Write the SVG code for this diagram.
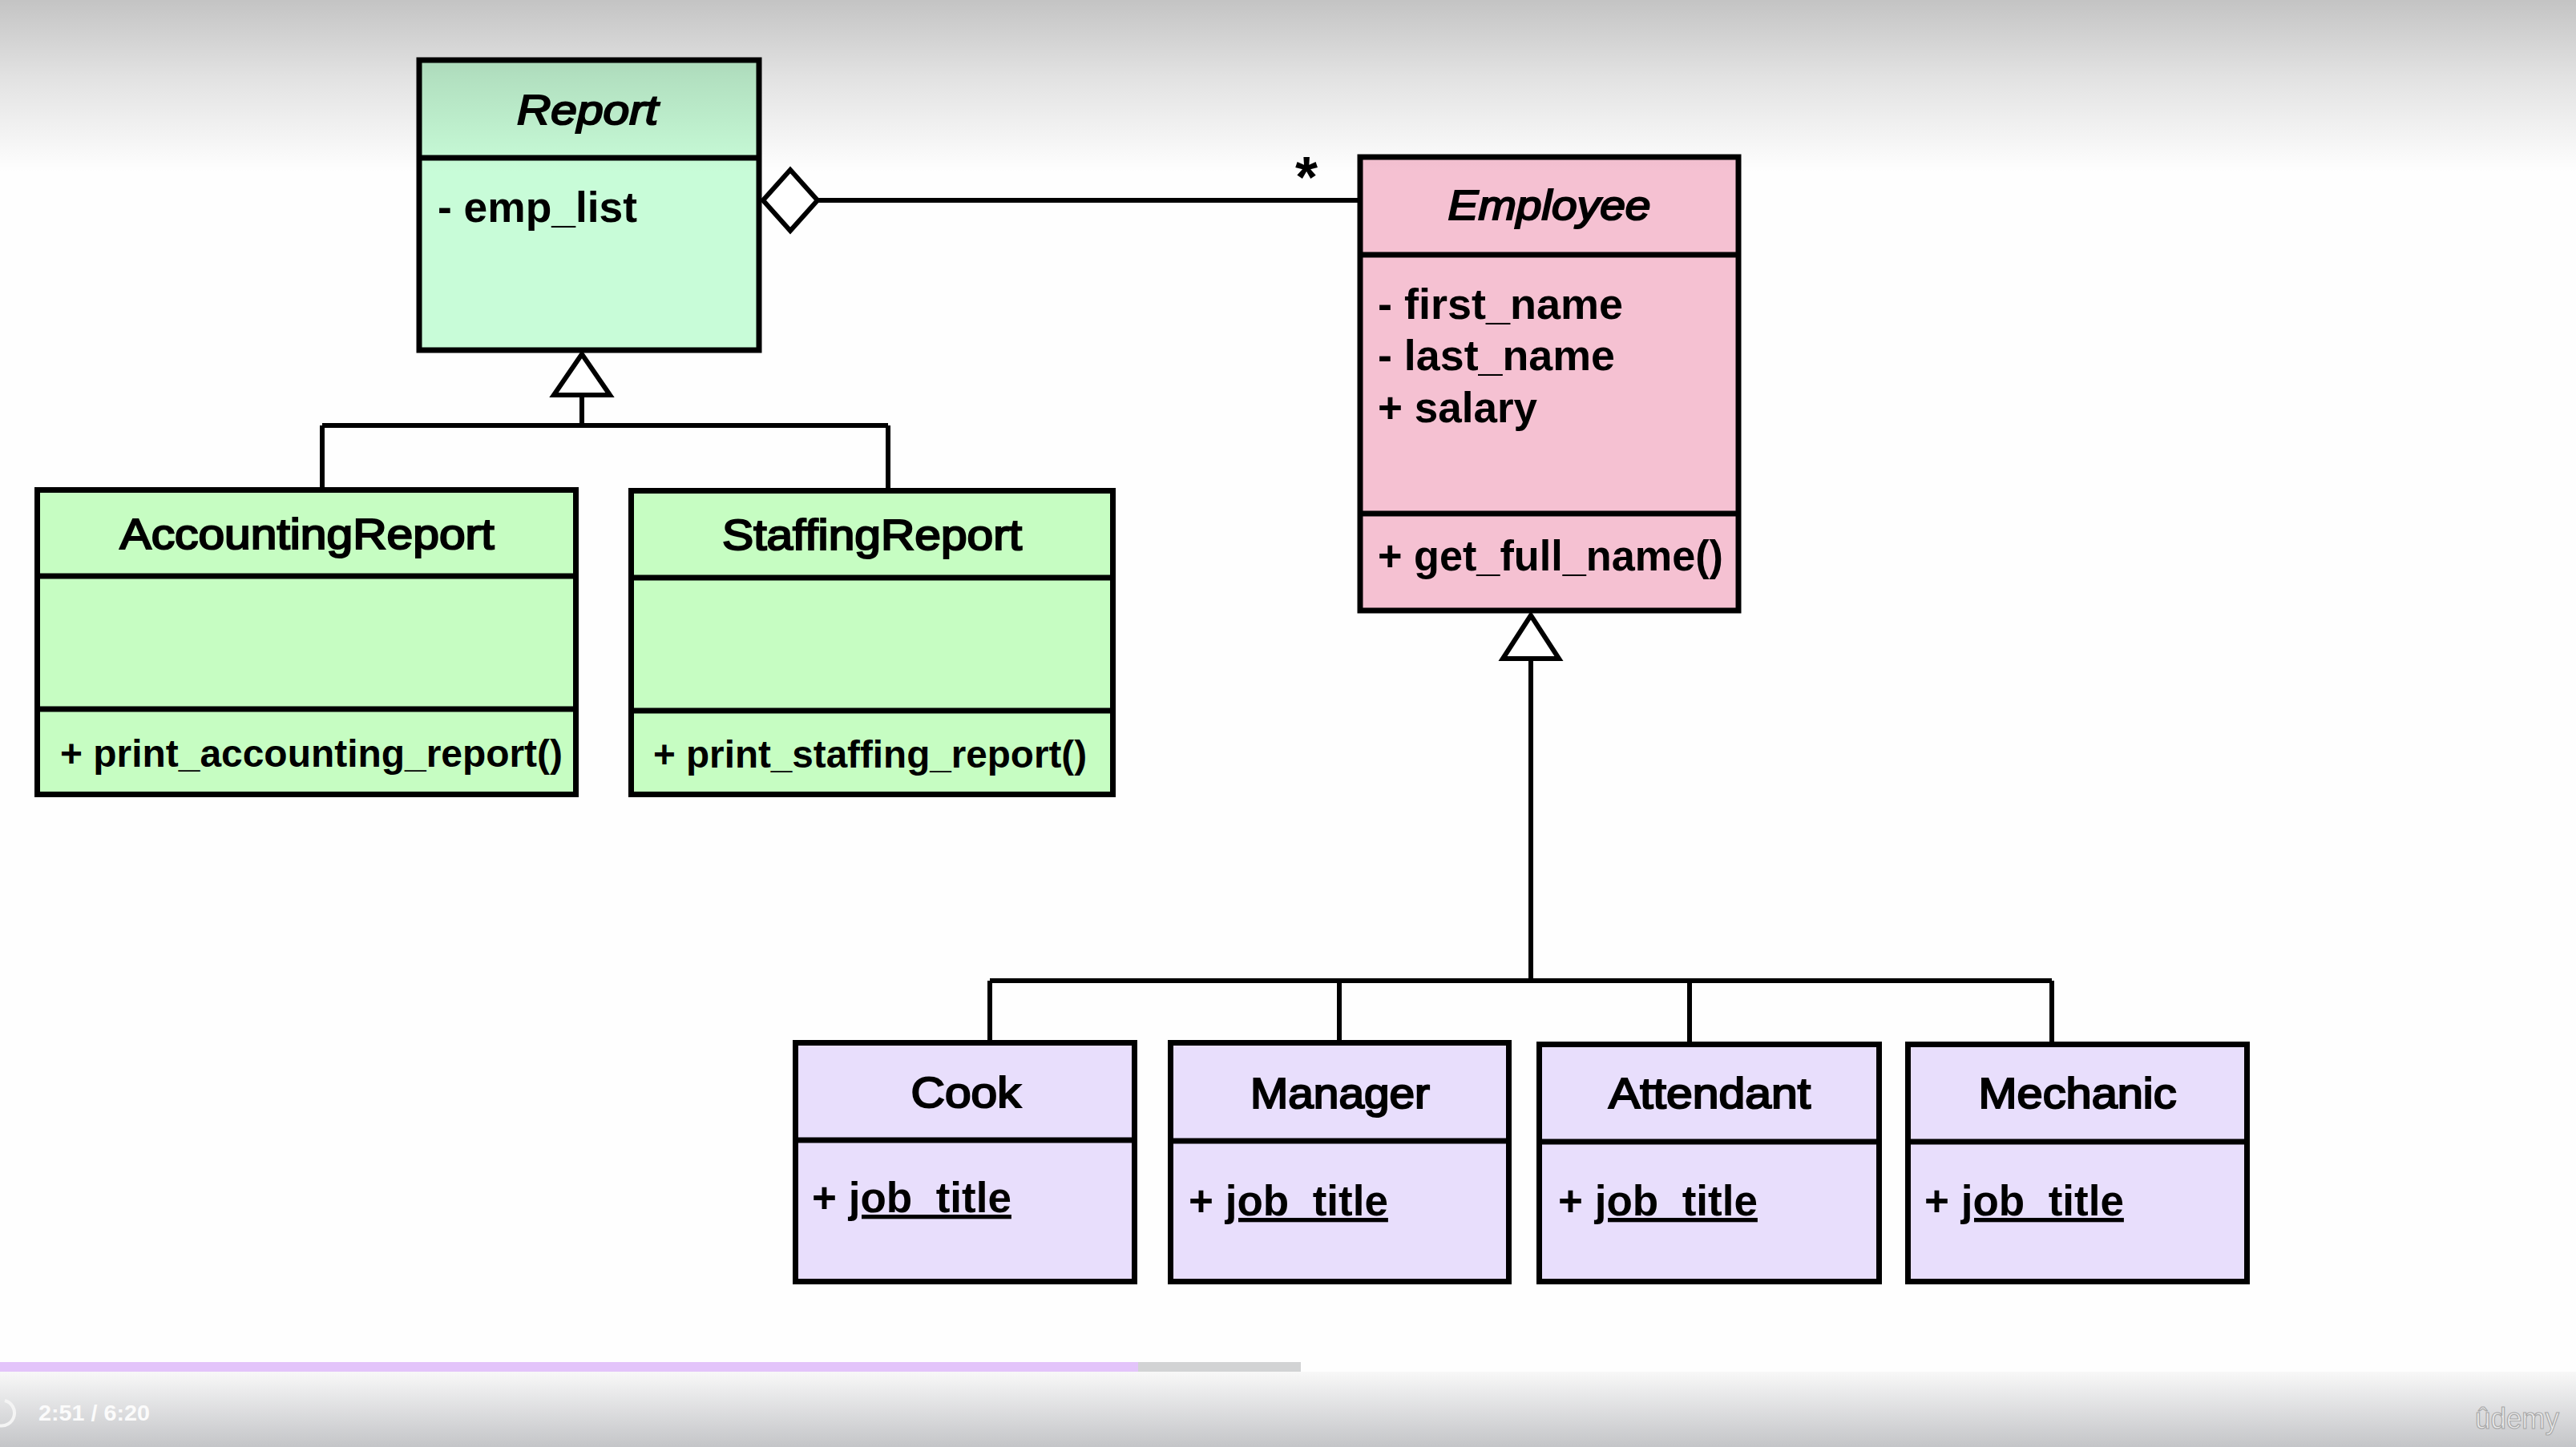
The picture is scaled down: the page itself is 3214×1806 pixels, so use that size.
<svg xmlns="http://www.w3.org/2000/svg" width="3214" height="1806" viewBox="0 0 3214 1806">
<defs>
<linearGradient id="topShade" x1="0" y1="0" x2="0" y2="1">
<stop offset="0" stop-color="#000" stop-opacity="0.23"/>
<stop offset="0.45" stop-color="#000" stop-opacity="0.11"/>
<stop offset="1" stop-color="#000" stop-opacity="0"/>
</linearGradient>
<linearGradient id="botShade" x1="0" y1="0" x2="0" y2="1">
<stop offset="0" stop-color="#f8f8f8"/>
<stop offset="1" stop-color="#c4c5c8"/>
</linearGradient>
</defs>
<style>
.box{stroke:#000;stroke-width:7}
.div{stroke:#000;stroke-width:7}
.conn{stroke:#000;stroke-width:6;fill:none}
.head{stroke:#000;stroke-width:6;fill:#fff;stroke-linejoin:miter}
.name{font-family:"Liberation Sans",Arial,sans-serif;font-size:54px;text-anchor:middle;fill:#000;stroke:#000;stroke-width:2.2}
.abs{font-style:italic;font-size:52px}
.mem{font-family:"Liberation Sans",Arial,sans-serif;font-size:53px;font-weight:bold;fill:#000}
.meth{font-size:48px}
.ul{text-decoration:underline}
.green1{fill:#c8fcd8}
.green2{fill:#c6fdc2}
.pink{fill:#f5c1d2}
.lilac{fill:#e8defc}
</style>
<rect x="0" y="0" width="3214" height="1806" fill="#fefefe"/>

<g id="connectors">
<path class="conn" d="M1021 250 H1697"/>
<polygon class="head" points="952,250 986,212 1020,250 986,288"/>
<text x="1630" y="246" font-family="Liberation Sans, Arial, sans-serif" font-size="72" font-weight="bold" text-anchor="middle">*</text>
<path class="conn" d="M726 493 V531 M402 531 H1108 M402 531 V611 M1108 531 V612"/>
<polygon class="head" points="726,442 691,493 761,493"/>
<path class="conn" d="M1910 822 V1224 M1235 1224 H2560 M1235 1224 V1301 M1671 1224 V1301 M2108 1224 V1303 M2560 1224 V1303"/>
<polygon class="head" points="1910,768 1875,822 1945,822"/>
</g>

<g id="Report">
<rect class="box green1" x="523" y="75" width="424" height="362"/>
<line class="div" x1="523" y1="197" x2="947" y2="197"/>
<text class="name abs" x="733" y="155" textLength="176" lengthAdjust="spacingAndGlyphs">Report</text>
<text class="mem" x="546" y="277" textLength="249" lengthAdjust="spacingAndGlyphs">- emp_list</text>
</g>

<g id="Employee">
<rect class="box pink" x="1697" y="196" width="472" height="566"/>
<line class="div" x1="1697" y1="318" x2="2169" y2="318"/>
<line class="div" x1="1697" y1="641" x2="2169" y2="641"/>
<text class="name abs" x="1933" y="274" textLength="253" lengthAdjust="spacingAndGlyphs">Employee</text>
<text class="mem" x="1719" y="398" textLength="306" lengthAdjust="spacingAndGlyphs">- first_name</text>
<text class="mem" x="1719" y="462" textLength="296" lengthAdjust="spacingAndGlyphs">- last_name</text>
<text class="mem" x="1719" y="527" textLength="199" lengthAdjust="spacingAndGlyphs">+ salary</text>
<text class="mem" x="1719" y="712" textLength="431" lengthAdjust="spacingAndGlyphs">+ get_full_name()</text>
</g>

<g id="AccountingReport">
<rect class="box green2" x="46.5" y="611.5" width="672" height="380"/>
<line class="div" x1="46" y1="719" x2="719" y2="719"/>
<line class="div" x1="46" y1="885" x2="719" y2="885"/>
<text class="name" x="383" y="685" textLength="467" lengthAdjust="spacingAndGlyphs">AccountingReport</text>
<text class="mem meth" x="75" y="957" textLength="627" lengthAdjust="spacingAndGlyphs">+ print_accounting_report()</text>
</g>

<g id="StaffingReport">
<rect class="box green2" x="787.5" y="612.5" width="601" height="379"/>
<line class="div" x1="787" y1="721" x2="1389" y2="721"/>
<line class="div" x1="787" y1="887" x2="1389" y2="887"/>
<text class="name" x="1088" y="686" textLength="374" lengthAdjust="spacingAndGlyphs">StaffingReport</text>
<text class="mem meth" x="815" y="958" textLength="541" lengthAdjust="spacingAndGlyphs">+ print_staffing_report()</text>
</g>

<g id="Cook">
<rect class="box lilac" x="992.5" y="1301.5" width="423" height="298"/>
<line class="div" x1="992" y1="1423" x2="1416" y2="1423"/>
<text class="name" x="1205" y="1382" textLength="137" lengthAdjust="spacingAndGlyphs">Cook</text>
<text class="mem" x="1013" y="1513">+ <tspan class="ul">job_title</tspan></text>
</g>

<g id="Manager">
<rect class="box lilac" x="1460.5" y="1301.5" width="422" height="298"/>
<line class="div" x1="1460" y1="1424" x2="1883" y2="1424"/>
<text class="name" x="1672" y="1383" textLength="224" lengthAdjust="spacingAndGlyphs">Manager</text>
<text class="mem" x="1483" y="1517">+ <tspan class="ul">job_title</tspan></text>
</g>

<g id="Attendant">
<rect class="box lilac" x="1920.5" y="1303.5" width="424" height="296"/>
<line class="div" x1="1920" y1="1425" x2="2345" y2="1425"/>
<text class="name" x="2133" y="1383" textLength="252" lengthAdjust="spacingAndGlyphs">Attendant</text>
<text class="mem" x="1944" y="1517">+ <tspan class="ul">job_title</tspan></text>
</g>

<g id="Mechanic">
<rect class="box lilac" x="2380.5" y="1303.5" width="423" height="296"/>
<line class="div" x1="2380" y1="1425" x2="2804" y2="1425"/>
<text class="name" x="2592" y="1383" textLength="247" lengthAdjust="spacingAndGlyphs">Mechanic</text>
<text class="mem" x="2401" y="1517">+ <tspan class="ul">job_title</tspan></text>
</g>

<g id="player">
<rect x="0" y="0" width="3214" height="215" fill="url(#topShade)"/>
<rect x="0" y="1700" width="1420" height="12" fill="#e3c4fa"/>
<rect x="1420" y="1700" width="203" height="12" fill="#d2d3d4"/>
<rect x="0" y="1712" width="3214" height="94" fill="url(#botShade)"/>
<path d="M6 1748 A16 16 0 1 1 -2 1779" fill="none" stroke="#f4f4f4" stroke-width="4"/>
<text x="48" y="1773" font-family="Liberation Sans, Arial, sans-serif" font-size="28" font-weight="bold" fill="#fbfbfb" textLength="139" lengthAdjust="spacingAndGlyphs">2:51 / 6:20</text>
<text x="3088" y="1783" font-family="Liberation Sans, Arial, sans-serif" font-size="36" fill="#ececec" stroke="#a8a8a8" stroke-width="1.2" textLength="105" lengthAdjust="spacingAndGlyphs">ûdemy</text>
</g>
</svg>
